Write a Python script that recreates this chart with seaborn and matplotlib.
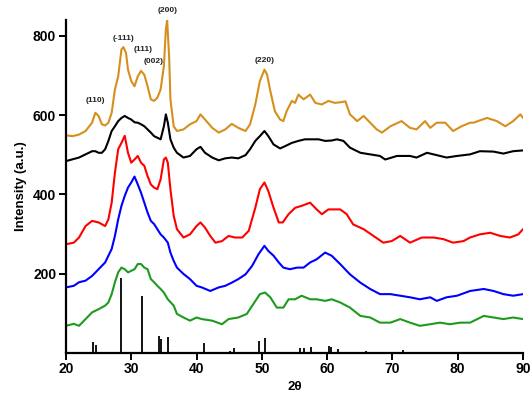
import numpy as np
import pandas as pd
import matplotlib
matplotlib.use("Agg")
import matplotlib.pyplot as plt
import seaborn as sns

# XRD patterns (2theta in degrees, intensity a.u.)
orange_x = [20, 21, 22, 23, 24, 24.5, 25, 25.5, 26, 26.5, 27, 27.5, 28, 28.5, 28.8, 29.2, 29.5, 30, 30.5,
            31, 31.5, 32, 32.5, 33, 33.5, 34, 34.5, 35, 35.3, 35.5, 35.8, 36, 36.5, 37, 38, 39, 40, 40.6,
            41.3, 42.4, 43.4, 44.4, 45.4, 46.4, 47.5, 48.2, 49, 49.7, 50.4, 50.8, 51.3, 52, 52.8, 53.3,
            53.8, 54.6, 55.1, 55.6, 56.4, 57.4, 58.2, 59.2, 60.2, 61.2, 62.2, 62.8, 63.5, 64.6, 65.6,
            66.6, 67.6, 68.4, 69.7, 71.4, 72.7, 73.7, 75, 75.8, 76.8, 78.1, 79.3, 80.6, 81.9, 82.4,
            84.5, 86, 87.3, 88.5, 89.6, 90]
orange_y = [549, 547, 551, 560, 581, 606, 598, 577, 574, 581, 606, 665, 698, 766, 772, 757, 715, 686, 673,
            698, 712, 702, 673, 640, 636, 644, 665, 724, 816, 840, 749, 640, 572, 560, 564, 577, 585, 602,
            589, 568, 556, 564, 578, 568, 560, 577, 627, 686, 715, 703, 661, 610, 589, 585,
            610, 636, 631, 652, 640, 652, 631, 627, 636, 631, 633, 635, 602, 585, 598,
            581, 564, 556, 572, 585, 568, 564, 585, 568, 581, 581, 560, 572, 581, 581,
            593, 585, 572, 585, 602, 593]

black_x = [20, 22, 23, 24, 24.5, 25, 25.5, 26, 26.5, 27, 27.5, 28, 28.5, 29, 29.5, 30, 30.5, 31, 31.5,
           32, 32.5, 33, 33.5, 34, 34.5, 35, 35.3, 35.6, 36, 36.5, 37, 38, 39, 40, 40.6, 41.3, 42.4,
           43.4, 44.4, 45.4, 46.4, 47.5, 48.2, 49, 49.7, 50.4, 51, 51.8, 52.8, 53.6, 54.6, 55.6, 56.6,
           57.7, 58.7, 59.7, 60.7, 61.5, 62.5, 63.5, 65.1, 66.6, 68.1, 68.9, 70.7, 72.7, 73.7, 75.3,
           76.8, 78.3, 79.9, 81.9, 83.4, 85.5, 87, 88.5, 90]
black_y = [484, 493, 501, 509, 509, 505, 505, 514, 535, 560, 572, 585, 593, 598, 593, 589, 582, 581, 577,
           572, 564, 556, 547, 543, 539, 572, 602, 581, 539, 518, 505, 493, 497, 514, 520, 505, 493,
           486, 491, 493, 491, 499, 514, 535, 547, 560, 547, 526, 516, 522, 530, 535, 539,
           539, 539, 535, 536, 539, 535, 518, 505, 501, 497, 488, 497, 497, 493, 505,
           499, 493, 497, 501, 509, 508, 503, 509, 511]

red_x = [20, 21.2, 22, 23, 24, 25, 26, 26.5, 27, 27.5, 28, 28.5, 29, 29.5, 30, 30.5, 31, 31.5, 32, 32.5,
         33, 33.5, 34, 34.5, 35, 35.3, 35.6, 36, 36.5, 37, 38, 39, 40, 40.6, 41.3, 42.1, 42.9, 43.9,
         44.9, 45.9, 47, 48, 49, 49.7, 50.4, 51, 51.8, 52.6, 53.2, 54.1, 55.1, 56.1, 57.4, 58.4, 59.2,
         60.2, 61.2, 62, 63, 64, 65.6, 67.1, 68.6, 69.9, 71.2, 72.7, 74.5, 76.3, 77.8, 79.3, 80.9,
         81.9, 83.4, 85, 86.5, 88, 89.3, 90]
red_y = [274, 278, 291, 320, 333, 329, 320, 337, 379, 455, 514, 530, 548, 505, 480, 488, 497, 480, 472, 446,
         425, 417, 413, 438, 488, 493, 480, 413, 346, 312, 291, 299, 320, 329, 316, 295, 278, 282,
         295, 291, 291, 308, 366, 413, 430, 408, 366, 329, 329, 350, 366, 371, 379, 362, 350,
         362, 362, 362, 350, 324, 312, 295, 278, 282, 295, 278, 291, 291, 287, 278, 282,
         291, 299, 303, 295, 291, 299, 312]

blue_x = [20, 21.2, 22, 23, 24, 25, 26, 27, 27.5, 28, 28.5, 29, 29.5, 30, 30.5, 31, 31.5, 32, 32.5, 33,
          33.5, 34, 34.5, 35, 35.6, 36, 36.5, 37, 38, 39, 40, 40.8, 42.1, 43.4, 44.4, 45.4, 46.4, 47.5,
          48.5, 49.5, 50.4, 51, 51.8, 52.6, 53.3, 54.3, 55.4, 56.4, 57.4, 58.4, 59.7, 60.7, 62, 63.5,
          65.1, 66.6, 68.1, 69.7, 71.2, 72.7, 74.2, 75.8, 76.8, 78.3, 79.9, 81.9, 84, 85.5, 87, 88.5, 90]
blue_y = [165, 169, 178, 182, 194, 211, 228, 262, 295, 337, 371, 396, 417, 430, 445, 425, 404, 379, 354, 333,
          325, 312, 299, 291, 278, 253, 232, 215, 199, 186, 169, 165, 156, 165, 169, 177, 186, 198,
          219, 249, 270, 257, 245, 228, 215, 211, 215, 215, 228, 236, 253, 245, 224, 198,
          177, 161, 148, 148, 144, 140, 135, 140, 131, 140, 144, 156, 161, 156, 148, 144, 148]

green_x = [20, 21.2, 22, 23, 24, 25, 26, 26.5, 27, 27.5, 28, 28.5, 29, 29.5, 30, 30.5, 31, 31.5, 32, 32.5,
           33, 33.5, 34, 34.5, 35, 35.6, 36.5, 37, 38, 39, 40, 40.8, 42.4, 43.9, 44.9, 46.4, 47.7, 48.7,
           49.7, 50.5, 51.3, 52.3, 53.3, 54.1, 55.1, 56.1, 57.4, 58.4, 59.7, 60.7, 62, 63.5, 65.1, 66.6,
           68.1, 69.7, 71.2, 72.7, 74.2, 75.8, 77.3, 78.8, 80.4, 81.9, 84, 85.5, 87, 88.5, 90]
green_y = [68, 73, 68, 85, 102, 110, 119, 127, 148, 178, 203, 215, 211, 203, 207, 211, 224, 224, 215, 211,
           186, 178, 169, 161, 152, 135, 119, 98, 89, 81, 89, 85, 81, 72, 85, 89, 98, 123,
           148, 152, 140, 114, 114, 135, 135, 144, 135, 135, 131, 135, 127, 114, 93, 89,
           76, 76, 85, 76, 68, 72, 76, 72, 76, 76, 93, 89, 85, 89, 85]

# reference stick pattern
stick_pos = [24.2, 24.6, 28.4, 31.7, 34.3, 34.6, 35.6, 41.1, 45.2, 45.8, 49.6, 50.5,
             55.9, 56.4, 57.6, 60.3, 60.6, 61.7, 66.0, 71.7]
stick_h = [28, 20, 189, 143, 43, 35, 39, 24, 5, 13, 30, 36,
           13, 13, 15, 17, 15, 10, 4, 7]

peak_labels = ["(110)", "(-111)", "(111)", "(002)", "(200)", "(220)"]
peak_lx = [24.5, 28.8, 31.8, 33.4, 35.5, 50.4]
peak_ly = [628, 786, 757, 727, 855, 730]

sns.set_style("ticks")
plt.rcParams['font.family'] = ['Liberation Sans', 'DejaVu Sans']
plt.rcParams['text.color'] = 'black'
plt.rcParams['axes.labelcolor'] = 'black'
plt.rcParams['xtick.color'] = 'black'
plt.rcParams['ytick.color'] = 'black'
plt.rcParams['axes.edgecolor'] = 'black'

fig = plt.figure(figsize=(5.32, 3.95), dpi=100)
ax = fig.add_axes([0.124, 0.107, 0.859, 0.842])

series = [(orange_x, orange_y, "#D68F1C"), (black_x, black_y, "black"),
          (red_x, red_y, "#FF0000"), (blue_x, blue_y, "#0000FF"),
          (green_x, green_y, "#1E9A1E")]
for xs, ys, c in series:
    sns.lineplot(x=xs, y=ys, ax=ax, color=c, linewidth=1.5, sort=False)

ax.vlines(stick_pos, 0, stick_h, color="black", linewidth=1.3)

for t, x, y in zip(peak_labels, peak_lx, peak_ly):
    ax.text(x, y, t, ha="center", va="bottom", fontsize=6, fontweight="bold",
            color="#222222", clip_on=False)

ax.set_xlim(20, 90)
ax.set_ylim(0, 840)
ax.set_xticks([20, 30, 40, 50, 60, 70, 80, 90])
ax.set_yticks([200, 400, 600, 800])
ax.set_xlabel("2θ", fontsize=9.5, fontweight="bold", labelpad=3)
ax.set_ylabel("Intensity (a.u.)", fontsize=9.5, fontweight="bold", labelpad=4)
for lab in ax.get_xticklabels() + ax.get_yticklabels():
    lab.set_fontweight("bold")
ax.tick_params(labelsize=10, width=1.4, length=5, direction="out", pad=2)
for s in ["left", "bottom"]:
    ax.spines[s].set_linewidth(1.6)
sns.despine(ax=ax)

plt.savefig("out.png", dpi=100)
